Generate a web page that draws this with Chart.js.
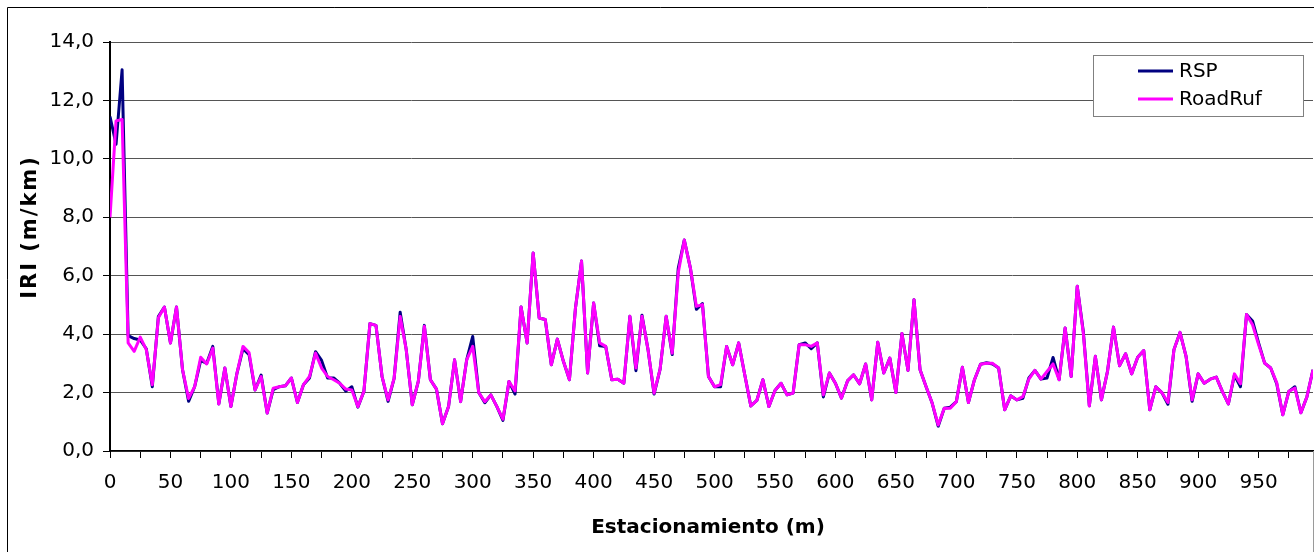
<!DOCTYPE html>
<html>
<head>
<meta charset="utf-8">
<script src="https://cdn.jsdelivr.net/npm/chart.js@4.4.1/dist/chart.umd.min.js"></script>
<style>
html,body{margin:0;padding:0;background:#fff;overflow:hidden}
#wrap{position:relative;width:1314px;height:552px}
</style>
</head>
<body>
<div id="wrap"><canvas id="c" width="1314" height="552"></canvas></div>
<script>
// estaciones cada 5 m (0..995)
var stations=[]; for(var i=0;i<200;i++) stations.push(i*5);

var seriesNames=['RSP','RoadRuf'];
var seriesColors=['#000080','#FF00FF'];

var rsp=[11.45,10.5,13.05,3.95,3.85,3.8,3.5,2.2,4.6,4.93,
3.7,4.93,2.78,1.7,2.2,3.1,3.0,3.58,1.61,2.84,
1.52,2.66,3.5,3.3,2.09,2.6,1.3,2.1,2.2,2.23,
2.5,1.66,2.27,2.5,3.4,3.1,2.5,2.5,2.32,2.05,
2.2,1.5,2.04,4.36,4.3,2.55,1.7,2.49,4.75,3.47,
1.58,2.38,4.3,2.44,2.12,0.93,1.52,3.12,1.69,3.12,
3.92,2.0,1.65,1.92,1.52,1.05,2.38,1.95,4.93,3.7,
6.78,4.55,4.5,2.95,3.83,3.07,2.44,4.9,6.5,2.67,
5.07,3.6,3.58,2.44,2.46,2.32,4.61,2.75,4.65,3.47,
1.95,2.8,4.61,3.3,6.25,7.22,6.27,4.85,5.05,2.55,
2.2,2.2,3.58,2.95,3.7,2.61,1.54,1.73,2.44,1.52,
2.07,2.32,1.92,1.98,3.64,3.7,3.5,3.7,1.85,2.67,
2.32,1.81,2.4,2.61,2.3,2.98,1.75,3.72,2.67,3.18,
2.0,4.02,2.76,5.18,2.78,2.2,1.64,0.85,1.46,1.5,
1.69,2.87,1.66,2.44,2.97,3.02,2.98,2.84,1.41,1.89,
1.75,1.8,2.5,2.76,2.46,2.5,3.2,2.44,4.21,2.55,
5.64,4.1,1.55,3.24,1.75,2.72,4.24,2.92,3.33,2.64,
3.21,3.44,1.41,2.2,2.0,1.6,3.47,4.06,3.24,1.7,
2.64,2.32,2.46,2.53,2.04,1.61,2.6,2.2,4.67,4.45,
3.7,3.01,2.84,2.3,1.24,2.04,2.2,1.31,1.86,2.78];

var roadruf=[8.0,11.3,11.35,3.7,3.41,3.9,3.47,2.27,4.56,4.93,
3.7,4.93,2.78,1.8,2.2,3.21,2.98,3.52,1.61,2.84,
1.52,2.66,3.58,3.37,2.09,2.55,1.3,2.15,2.2,2.23,
2.5,1.66,2.27,2.55,3.35,2.84,2.55,2.44,2.32,2.12,
2.09,1.52,2.04,4.36,4.3,2.55,1.75,2.49,4.6,3.47,
1.58,2.38,4.27,2.44,2.12,0.93,1.52,3.12,1.69,3.12,
3.58,2.0,1.69,1.92,1.52,1.09,2.38,2.06,4.93,3.7,
6.78,4.55,4.5,2.95,3.83,3.07,2.44,4.9,6.5,2.67,
5.07,3.7,3.58,2.44,2.46,2.32,4.61,2.84,4.61,3.47,
1.98,2.8,4.61,3.35,6.1,7.22,6.27,4.95,5.01,2.55,
2.2,2.27,3.58,2.95,3.7,2.61,1.54,1.73,2.44,1.52,
2.07,2.32,1.92,1.98,3.64,3.64,3.58,3.7,1.92,2.67,
2.32,1.81,2.4,2.61,2.3,2.98,1.75,3.72,2.67,3.18,
2.0,4.02,2.76,5.18,2.78,2.2,1.64,0.89,1.46,1.46,
1.69,2.87,1.66,2.44,2.97,3.0,3.0,2.84,1.41,1.89,
1.75,1.86,2.46,2.76,2.46,2.72,2.98,2.44,4.21,2.55,
5.64,4.04,1.54,3.24,1.75,2.72,4.24,2.92,3.33,2.64,
3.21,3.44,1.41,2.2,2.0,1.66,3.47,4.06,3.24,1.75,
2.64,2.32,2.46,2.53,2.04,1.61,2.64,2.3,4.67,4.32,
3.64,3.01,2.84,2.34,1.24,2.04,2.15,1.31,1.86,2.78];

var FONT='DejaVu Sans';
var pts=function(arr){return arr.map(function(v,i){return {x:stations[i],y:v};});};

// titulos, leyenda y marco exterior
var deco={id:'deco',afterDraw:function(ch){
  var c=ch.ctx; c.save();
  // marco exterior
  c.strokeStyle='#000'; c.lineWidth=1;
  c.beginPath(); c.moveTo(7.5,552); c.lineTo(7.5,7.5); c.lineTo(1314,7.5); c.stroke();
  c.strokeStyle='#9a9a9a';
  c.beginPath(); c.moveTo(1313.5,451); c.lineTo(1313.5,552); c.stroke();
  // leyenda
  c.fillStyle='#fff'; c.fillRect(1093,55,210,61);
  c.strokeStyle='#808080'; c.strokeRect(1093.5,55.5,210,61);
  var ys=[71,99];
  ch.data.datasets.forEach(function(ds,i){
    c.strokeStyle=ds.borderColor; c.lineWidth=3;
    c.beginPath(); c.moveTo(1138,ys[i]); c.lineTo(1173,ys[i]); c.stroke();
    c.fillStyle='#000'; c.font='20px "'+FONT+'"'; c.textBaseline='middle'; c.textAlign='left';
    c.fillText(ds.label,1179,ys[i]+1);
  });
  // titulos de ejes
  c.fillStyle='#000'; c.font='bold 20px "'+FONT+'"'; c.textAlign='center'; c.textBaseline='middle';
  c.fillText('Estacionamiento (m)',708,528);
  c.translate(31,227); c.rotate(-Math.PI/2);
  c.font='bold 21px "'+FONT+'"';
  try{ c.letterSpacing='2px'; }catch(e){}
  c.fillText('IRI (m/km)',0,0);
  c.restore();
}};

new Chart(document.getElementById('c'),{
  type:'line',
  data:{datasets:[
    {label:seriesNames[0],data:pts(rsp),borderColor:seriesColors[0],borderWidth:3,pointRadius:0,tension:0,borderJoinStyle:'round',order:1},
    {label:seriesNames[1],data:pts(roadruf),borderColor:seriesColors[1],borderWidth:3,pointRadius:0,tension:0,borderJoinStyle:'round',order:0}
  ]},
  options:{
    responsive:false,animation:false,devicePixelRatio:1,
    layout:{padding:{top:42,right:1,left:0,bottom:0}},
    plugins:{legend:{display:false},tooltip:{enabled:false}},
    scales:{
      x:{type:'linear',min:0,max:995,
        afterFit:function(s){s.height=101;},
        grid:{drawOnChartArea:false,tickLength:7,tickColor:'#000',tickWidth:1},
        border:{color:'#000',width:1.5},
        ticks:{stepSize:25,includeBounds:false,autoSkip:false,maxRotation:0,padding:13,color:'#000',
          font:{family:FONT,size:20},
          callback:function(v){return v%50===0?String(v):'';}}},
      y:{min:0,max:14,
        afterFit:function(s){s.width=110;},
        grid:{color:'#555',lineWidth:1,tickLength:7,tickColor:'#000'},
        border:{color:'#000',width:2},
        ticks:{stepSize:2,padding:9,color:'#000',font:{family:FONT,size:20},
          callback:function(v){return v.toFixed(1).replace('.',',');}}}
    }
  },
  plugins:[deco]
});
</script>
</body>
</html>
